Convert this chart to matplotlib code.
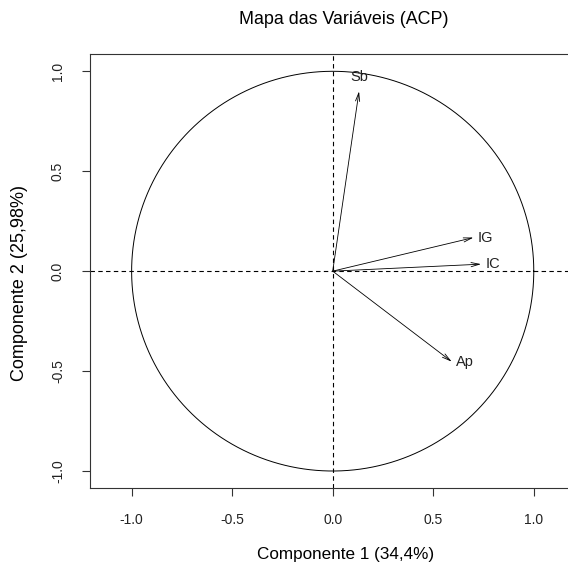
import matplotlib.pyplot as plt
import numpy as np

plt.rcParams['font.family'] = ['Liberation Sans', 'DejaVu Sans']

# loadings (componente 1, componente 2)
variables = ['Sb', 'IG', 'IC', 'Ap']
comp1 = [0.131, 0.700, 0.738, 0.592]
comp2 = [0.900, 0.168, 0.035, -0.453]
label_side = ['top', 'right', 'right', 'right']

ticks = [-1.0, -0.5, 0.0, 0.5, 1.0]
tick_labels = ['-1.0', '-0.5', '0.0', '0.5', '1.0']

fig = plt.figure(figsize=(5.68, 5.66), dpi=100)
ax = fig.add_axes([90 / 568, 1 - 488 / 566, 485.4 / 568, 433.7 / 566])

# circulo de correlacao
t = np.linspace(0, 2 * np.pi, 400)
ax.plot(np.cos(t), np.sin(t), color='black', lw=0.7)
ax.axhline(0, color='black', lw=0.8, ls=(0, (4, 3)))
ax.axvline(0, color='black', lw=0.8, ls=(0, (4, 3)))

for name, x, y, side in zip(variables, comp1, comp2, label_side):
    ax.annotate('', xy=(x, y), xytext=(0, 0),
                arrowprops=dict(arrowstyle='->,head_length=0.6,head_width=0.15',
                                color='black', lw=0.6, shrinkA=0, shrinkB=0))
    if side == 'top':
        ax.annotate(name, xy=(x, y), xytext=(0, 5), textcoords='offset points',
                    ha='center', va='bottom', fontsize=10.5, color='#222222')
    else:
        ax.annotate(name, xy=(x, y), xytext=(3, 0), textcoords='offset points',
                    ha='left', va='center', fontsize=10.5, color='#222222')

ax.set_xlim(-1.207, 1.207)
ax.set_ylim(-1.085, 1.085)
ax.set_xticks(ticks)
ax.set_xticklabels(tick_labels)
ax.set_yticks(ticks)
ax.set_yticklabels(tick_labels, rotation=90, va='center')
ax.tick_params(direction='out', length=6, width=0.8, labelsize=10, pad=12,
               colors='#333333', labelcolor='#222222')
for s in ax.spines.values():
    s.set_linewidth(0.8)
    s.set_color('#333333')

fig.text(346 / 568, 1 - 555 / 566, 'Componente 1 (34,4%)', ha='center', va='center', fontsize=12.3)
fig.text(20 / 568, 1 - 283 / 566, 'Componente 2 (25,98%)', ha='center', va='center',
         rotation=90, fontsize=13)
fig.text(343.5 / 568, 1 - 19 / 566, 'Mapa das Variáveis (ACP)', ha='center', va='center', fontsize=12.9)

fig.savefig('out.png', dpi=100)
